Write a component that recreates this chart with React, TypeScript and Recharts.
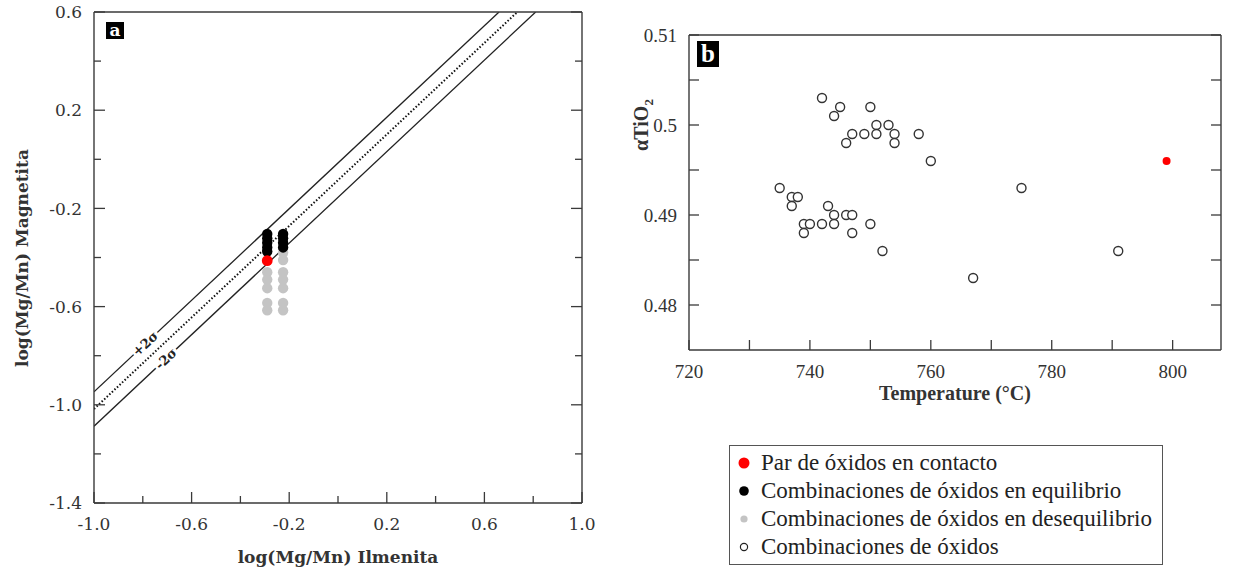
import React from "react";
import { ScatterChart, Scatter, XAxis, YAxis, ReferenceLine, ReferenceDot } from "recharts";

// ---- panel a: log(Mg/Mn) ilmenite vs magnetite ----
const ilmColumns = [-0.29, -0.225];
const blackCol1 = [-0.304, -0.322, -0.34, -0.359, -0.376];
const blackCol2 = [-0.304, -0.322, -0.34, -0.359];
const grayCol1 = [-0.46, -0.49, -0.525, -0.585, -0.615];
const grayCol2 = [-0.38, -0.41, -0.46, -0.49, -0.525, -0.585, -0.615];
const contactPairA = [{ x: -0.29, y: -0.413 }];

const equilibriumLine = [{ x: -1, y: -1.017 }, { x: 0.735, y: 0.6 }];
const plus2Sigma = [{ x: -1, y: -0.947 }, { x: 0.66, y: 0.6 }];
const minus2Sigma = [{ x: -1, y: -1.087 }, { x: 0.81, y: 0.6 }];
const sigmaLabels = [
  { x: -0.79, y: -0.751, text: "+2σ" },
  { x: -0.705, y: -0.812, text: "-2σ" },
];

const aXMajor = [-1, -0.6, -0.2, 0.2, 0.6, 1];
const aXMinor = [-0.8, -0.4, 0, 0.4, 0.8];
const aYMajor = [-1.4, -1, -0.6, -0.2, 0.2, 0.6];
const aYMinor = [-1.2, -0.8, -0.4, 0, 0.4];

// ---- panel b: temperature vs aTiO2 ----
const tempOpen = [742, 745, 744, 750, 751, 753, 747, 749, 751, 754, 758, 746, 754, 760,
  735, 737, 738, 737, 743, 744, 746, 747, 739, 740, 742, 744, 750, 739, 747, 752, 775, 767, 791];
const atio2Open = [0.503, 0.502, 0.501, 0.502, 0.5, 0.5, 0.499, 0.499, 0.499, 0.499, 0.499, 0.498, 0.498, 0.496,
  0.493, 0.492, 0.492, 0.491, 0.491, 0.49, 0.49, 0.49, 0.489, 0.489, 0.489, 0.489, 0.489, 0.488, 0.488, 0.486, 0.493, 0.483, 0.486];
const contactPairB = [{ x: 799, y: 0.496 }];

const bXMajor = [720, 740, 760, 780, 800];
const bXMinor = [730, 750, 770, 790];
const bYMajor = [0.48, 0.49, 0.5, 0.51];
const bYMinor = [0.485, 0.495, 0.505];

const legendItems = [
  { label: "Par de óxidos en contacto", kind: "red" },
  { label: "Combinaciones de óxidos en equilibrio", kind: "black" },
  { label: "Combinaciones de óxidos en desequilibrio", kind: "gray" },
  { label: "Combinaciones de óxidos", kind: "open" },
];

const AXIS = "#3a3a3a";
const SERIF_A = "DejaVu Serif";
const SERIF_B = "Liberation Serif";

const col = (x: number, ys: number[]) => ys.map((y) => ({ x, y }));
const blackData = [...col(ilmColumns[0], blackCol1), ...col(ilmColumns[1], blackCol2)];
const grayData = [...col(ilmColumns[0], grayCol1), ...col(ilmColumns[1], grayCol2)];
const openData = tempOpen.map((t, i) => ({ x: t, y: atio2Open[i] }));

const isIn = (arr: number[], v: number) => arr.some((m) => Math.abs(m - v) < 1e-9);

function makeTick(side: string, majors: number[], fmt: ((v: number) => string) | null, majorLen: number, minorLen: number, font: any) {
  return (props: any) => {
    const { x, y, payload } = props;
    const v = payload.value;
    const major = isIn(majors, v);
    const len = major ? majorLen : minorLen;
    let line;
    let label = null;
    if (side === "bottom") {
      line = <line x1={x} x2={x} y1={y} y2={y - len} stroke={AXIS} strokeWidth={1.3} />;
      if (major && fmt) label = <text x={x} y={y + 15} dy="0.71em" textAnchor="middle" {...font}>{fmt(v)}</text>;
    } else if (side === "top") {
      line = <line x1={x} x2={x} y1={y} y2={y + len} stroke={AXIS} strokeWidth={1.3} />;
    } else if (side === "left") {
      line = <line x1={x} x2={x + len} y1={y} y2={y} stroke={AXIS} strokeWidth={1.3} />;
      if (major && fmt) label = <text x={x - 12} y={y} dy="0.36em" textAnchor="end" {...font}>{fmt(v)}</text>;
    } else {
      line = <line x1={x} x2={x - len} y1={y} y2={y} stroke={AXIS} strokeWidth={1.3} />;
    }
    return <g>{line}{label}</g>;
  };
}

const fontA = { fontFamily: SERIF_A, fontSize: 17, fill: "#333" };
const fontB = { fontFamily: SERIF_B, fontSize: 19, fill: "#333" };
const fmtA = (v: number) => v.toFixed(1);
const fmtB = (v: number) => String(v);

const dot = (r: number, fill: string) => (p: any) => <circle cx={p.cx} cy={p.cy} r={r} fill={fill} />;
const openDot = (p: any) => <circle cx={p.cx} cy={p.cy} r={4.5} fill="#fff" stroke="#333" strokeWidth={1.4} />;

function LegendMarker({ kind }: { kind: string }) {
  if (kind === "red") return <circle cx={8} cy={8} r={5.5} fill="#f00" />;
  if (kind === "black") return <circle cx={8} cy={8} r={4.8} fill="#000" />;
  if (kind === "gray") return <circle cx={8} cy={8} r={3.6} fill="#c4c4c4" />;
  return <circle cx={8} cy={8} r={3.6} fill="#fff" stroke="#222" strokeWidth={1.2} />;
}

const abs = (s: React.CSSProperties): React.CSSProperties => ({ position: "absolute", ...s });
const axisLine = { stroke: AXIS, strokeWidth: 1.4 };

export default function App() {
  const aTicksX = [...aXMajor, ...aXMinor].sort((p, q) => p - q);
  const aTicksY = [...aYMajor, ...aYMinor].sort((p, q) => p - q);
  const bTicksX = [...bXMajor, ...bXMinor].sort((p, q) => p - q);
  const bTicksY = [...bYMajor, ...bYMinor].sort((p, q) => p - q);

  return (
    <div style={{ position: "fixed", left: 0, top: 0, width: 1235, height: 580, background: "#fff", overflow: "hidden" }}>
      {/* panel a: plot area x 94..582, y 12..503 */}
      <div style={abs({ left: 0, top: 0 })}>
        <ScatterChart width={620} height={580} margin={{ top: 7, left: 34, right: 33, bottom: 47 }}>
          <XAxis type="number" dataKey="x" domain={[-1, 1]} ticks={aTicksX} interval={0} height={30} tickSize={0} tickMargin={0}
            allowDataOverflow axisLine={axisLine} tickLine={false}
            tick={makeTick("bottom", aXMajor, fmtA, 11, 7, fontA)} />
          <XAxis xAxisId="top" orientation="top" type="number" domain={[-1, 1]} ticks={aTicksX} interval={0} height={5} tickSize={0} tickMargin={0}
            allowDataOverflow axisLine={axisLine} tickLine={false}
            tick={makeTick("top", aXMajor, null, 11, 7, fontA)} />
          <YAxis type="number" dataKey="y" domain={[-1.4, 0.6]} ticks={aTicksY} interval={0} width={60} tickSize={0} tickMargin={0}
            allowDataOverflow axisLine={axisLine} tickLine={false}
            tick={makeTick("left", aYMajor, fmtA, 11, 7, fontA)} />
          <YAxis yAxisId="right" orientation="right" type="number" domain={[-1.4, 0.6]} ticks={aTicksY} interval={0} width={5} tickSize={0} tickMargin={0}
            allowDataOverflow axisLine={axisLine} tickLine={false}
            tick={makeTick("right", aYMajor, null, 11, 7, fontA)} />
          <ReferenceLine segment={plus2Sigma} stroke="#222" strokeWidth={1.3} ifOverflow="hidden" />
          <ReferenceLine segment={minus2Sigma} stroke="#222" strokeWidth={1.3} ifOverflow="hidden" />
          <ReferenceLine segment={equilibriumLine} stroke="#111" strokeWidth={2} strokeDasharray="1.5 2" ifOverflow="hidden" />
          {sigmaLabels.map((s) => (
            <ReferenceDot key={s.text} x={s.x} y={s.y} r={0} ifOverflow="visible"
              shape={(p: any) => (
                <text x={p.cx} y={p.cy} dy="0.35em" textAnchor="middle" transform={`rotate(-43 ${p.cx} ${p.cy})`}
                  fontFamily={SERIF_A} fontSize={13} fontWeight="bold" fill="#222"
                  stroke="#fff" strokeWidth={5} paintOrder="stroke">{s.text}</text>
              )} />
          ))}
          <Scatter data={grayData} shape={dot(5.2, "#c4c4c4")} isAnimationActive={false} />
          <Scatter data={blackData} shape={dot(5.2, "#000")} isAnimationActive={false} />
          <Scatter data={contactPairA} shape={dot(5.4, "#f00")} isAnimationActive={false} />
        </ScatterChart>
      </div>
      <div style={abs({ left: 106, top: 22, width: 18, height: 17, background: "#000", color: "#fff", fontFamily: SERIF_A, fontWeight: "bold", fontSize: 17, lineHeight: "16px", textAlign: "center" })}>a</div>
      <div style={abs({ left: 338, top: 557, transform: "translate(-50%,-50%)", whiteSpace: "nowrap", fontFamily: SERIF_A, fontWeight: "bold", fontSize: 17, color: "#333" })}>log(Mg/Mn) Ilmenita</div>
      <div style={abs({ left: 22, top: 258, transform: "translate(-50%,-50%) rotate(-90deg)", whiteSpace: "nowrap", fontFamily: SERIF_A, fontWeight: "bold", fontSize: 17, color: "#333" })}>log(Mg/Mn) Magnetita</div>

      {/* panel b: plot area x 689..1221, y 35..350 */}
      <div style={abs({ left: 620, top: 0 })}>
        <ScatterChart width={615} height={580} margin={{ top: 30, left: 9, right: 9, bottom: 200 }}>
          <XAxis type="number" dataKey="x" domain={[720, 808]} ticks={bTicksX} interval={0} height={30} tickSize={0} tickMargin={0}
            allowDataOverflow axisLine={axisLine} tickLine={false}
            tick={makeTick("bottom", bXMajor, fmtB, 10, 10, fontB)} />
          <XAxis xAxisId="top" orientation="top" type="number" domain={[720, 808]} ticks={bTicksX} interval={0} height={5} tickSize={0} tickMargin={0}
            allowDataOverflow axisLine={axisLine} tickLine={false}
            tick={makeTick("top", bXMajor, null, 10, 10, fontB)} />
          <YAxis type="number" dataKey="y" domain={[0.475, 0.51]} ticks={bTicksY} interval={0} width={60} tickSize={0} tickMargin={0}
            allowDataOverflow axisLine={axisLine} tickLine={false}
            tick={makeTick("left", bYMajor, fmtB, 10, 10, fontB)} />
          <YAxis yAxisId="right" orientation="right" type="number" domain={[0.475, 0.51]} ticks={bTicksY} interval={0} width={5} tickSize={0} tickMargin={0}
            allowDataOverflow axisLine={axisLine} tickLine={false}
            tick={makeTick("right", bYMajor, null, 10, 10, fontB)} />
          <Scatter data={openData} shape={openDot} isAnimationActive={false} />
          <Scatter data={contactPairB} shape={dot(4, "#f00")} isAnimationActive={false} />
        </ScatterChart>
      </div>
      <div style={abs({ left: 697, top: 41, width: 22, height: 26, background: "#000", color: "#fff", fontFamily: SERIF_B, fontWeight: "bold", fontSize: 25, lineHeight: "26px", textAlign: "center" })}>b</div>
      <div style={abs({ left: 955, top: 393, transform: "translate(-50%,-50%)", whiteSpace: "nowrap", fontFamily: SERIF_B, fontWeight: "bold", fontSize: 20, color: "#333" })}>Temperature (°C)</div>
      <div style={abs({ left: 643, top: 125, transform: "translate(-50%,-50%) rotate(-90deg)", whiteSpace: "nowrap", fontFamily: SERIF_B, fontWeight: "bold", fontSize: 20, color: "#333" })}>αTiO<sub style={{ fontSize: 13 }}>2</sub></div>

      {/* legend */}
      <div style={abs({ left: 729, top: 445, border: "1.5px solid #555", padding: "3px 10px 3px 6px", fontFamily: SERIF_B, fontSize: 23, color: "#222", lineHeight: "28px", background: "#fff" })}>
        {legendItems.map((it) => (
          <div key={it.label} style={{ display: "flex", alignItems: "center", whiteSpace: "nowrap" }}>
            <svg width={18} height={16} style={{ marginRight: 7 }}><LegendMarker kind={it.kind} /></svg>
            {it.label}
          </div>
        ))}
      </div>
    </div>
  );
}
